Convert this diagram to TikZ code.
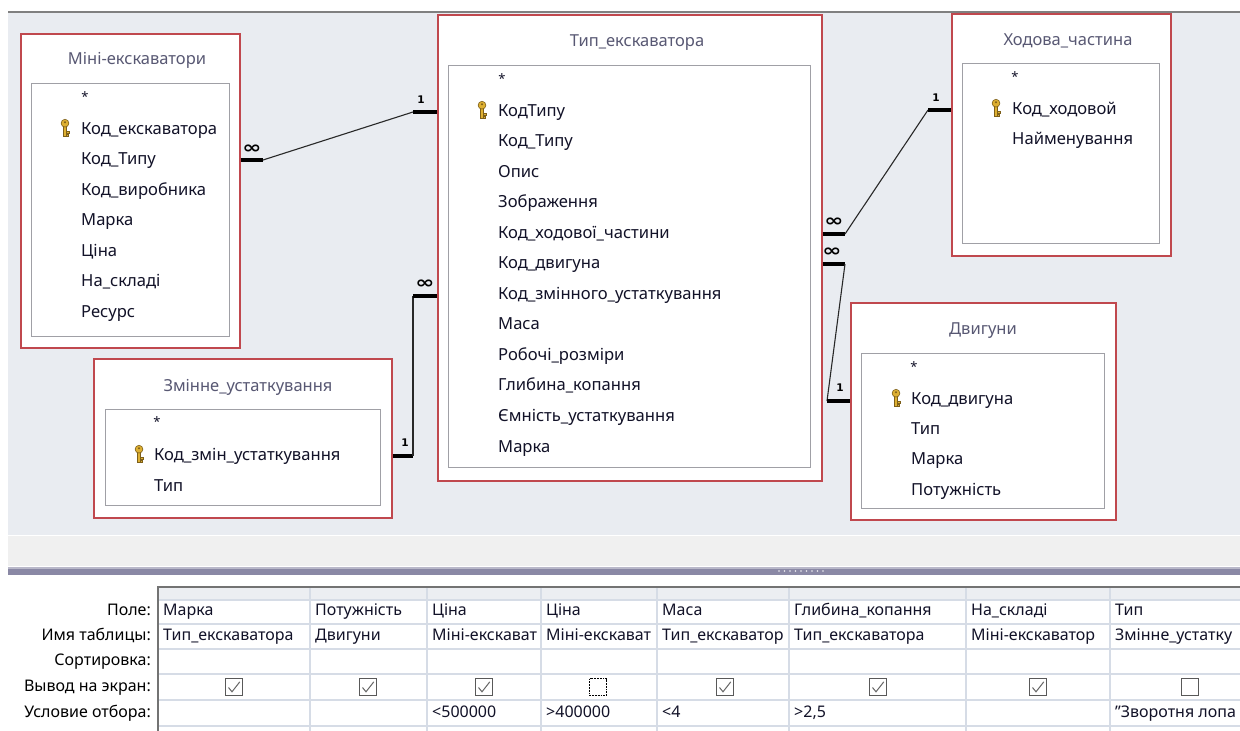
\documentclass[tikz,border=0pt]{standalone}
\usepackage{fontspec}
\setmainfont{Noto Sans}
\newfontfamily\relfont{DejaVu Sans}
\definecolor{bgdiag}{RGB}{233,236,241}
\definecolor{tblred}{RGB}{192,72,78}
\definecolor{inngray}{RGB}{160,160,166}
\definecolor{ttlcol}{RGB}{88,88,115}
\definecolor{fldcol}{RGB}{18,18,40}
\definecolor{relcol}{RGB}{40,40,40}
\definecolor{gridln}{RGB}{214,220,230}
\definecolor{gridhd}{RGB}{236,238,242}
\definecolor{barcol}{RGB}{138,136,165}
\definecolor{keygold}{RGB}{222,176,50}
\definecolor{keydark}{RGB}{125,95,25}
\newcommand\gcell[4]{\begin{scope}\clip (#1,#3-12) rectangle (#2-1,#3+12); \node[gtxt] at (#1+5,#3) {#4};\end{scope}}
\newcommand\cbox[2]{\draw[cbx] (#1-8.5,#2-8.5) rectangle (#1+8.5,#2+8.5); \draw[chk] (#1-5.5,#2+0.5) -- (#1-2,#2+4.8) -- (#1+5.8,#2-5.2);}
\begin{document}
\begin{tikzpicture}[x=1pt,y=-1pt,
  tbl/.style={draw=tblred,line width=1.9pt,fill=white,anchor=north west,inner sep=0pt},
  inbox/.style={draw=inngray,line width=1.4pt,fill=white,anchor=north west,inner sep=0pt},
  ttl/.style={text=ttlcol,font=\fontsize{16.5}{18}\selectfont,inner sep=0pt},
  fld/.style={text=fldcol,font=\fontsize{16.6}{18}\selectfont,anchor=west,inner sep=0pt,text height=11.5pt,text depth=3.5pt},
  starst/.style={text=fldcol,font=\fontsize{13}{14}\selectfont,inner sep=0pt},
  stub/.style={line width=3.8pt,draw=black},
  rel/.style={line width=1.1pt,draw=relcol},
  card/.style={font=\relfont\bfseries\fontsize{10.5}{11}\selectfont,inner sep=0pt},
  inf/.style={font=\relfont\bfseries\fontsize{17}{18}\selectfont,inner sep=0pt,xscale=1.35},
  gtxt/.style={text=fldcol,font=\fontsize{16}{17}\selectfont,anchor=west,inner sep=0pt,text height=11.5pt,text depth=3.5pt},
  glab/.style={text=black,font=\fontsize{16}{17}\selectfont,anchor=east,inner sep=0pt,text height=11.5pt,text depth=3.5pt},
  cbx/.style={draw=black!65,line width=1pt,fill=white},
  chk/.style={draw=black!60,line width=1pt},
  goldkey/.pic={
    \filldraw[fill=keygold,draw=keydark,line width=0.6pt] (-1.5,-2) rectangle (1.5,8.5);
    \filldraw[fill=keygold,draw=keydark,line width=0.6pt] (0,-4.8) circle (3.9);
    \fill[keydark] (0,-5.8) circle (1.1);
    \filldraw[fill=keygold,draw=keydark,line width=0.5pt] (1.5,3.6) rectangle (3.8,5.2);
    \filldraw[fill=keygold,draw=keydark,line width=0.5pt] (1.5,6.6) rectangle (3.4,8.2);
  }
]
\useasboundingbox (0,0) rectangle (1240,731);
\fill[white] (0,0) rectangle (1240,731);
% diagram area
\fill[bgdiag] (8,12) rectangle (1240,535);
\fill[black!6] (8,536) rectangle (1240,566);
\fill[barcol] (8,567) rectangle (1240,575);
\fill[barcol!60] (8,567) rectangle (1240,568.5);
\foreach \i in {0,...,8} \fill[white!85!barcol] (779+\i*5.5,571) circle (0.9);

% ---------- tables ----------
% Mini
\node[tbl,minimum width=219pt,minimum height=314pt] (mini) at (20,33) {};
\node[inbox,minimum width=198pt,minimum height=253pt] (miniin) at (31,83) {};
\node[ttl] (minit) at (137,60) {Міні-екскаватори};
\node[starst] (mini0) at (85,97) {*};
\pic at (65,128) {goldkey};
\foreach \t [count=\i] in {Код\_екскаватора,Код\_Типу,Код\_виробника,Марка,Ціна,На\_складі,Ресурс}
  \node[fld] (mini\i) at (81,{130+(\i-1)*30.5}) {\t};

% Tip
\node[tbl,minimum width=384pt,minimum height=466pt] (tip) at (437,14) {};
\node[inbox,minimum width=362pt,minimum height=402pt] (tipin) at (448,65) {};
\node[ttl] (tipt) at (637,43) {Тип\_екскаватора};
\node[starst] (tip0) at (502,79) {*};
\pic at (482,110) {goldkey};
\foreach \t [count=\i] in {КодТипу,Код\_Типу,Опис,Зображення,Код\_ходової\_частини,Код\_двигуна,Код\_змінного\_устаткування,Маса,Робочі\_розміри,Глибина\_копання,Ємність\_устаткування,Марка}
  \node[fld] (tip\i) at (498,{112+(\i-1)*30.55}) {\t};

% Khodova
\node[tbl,minimum width=219pt,minimum height=242pt] (khod) at (951,13) {};
\node[inbox,minimum width=197pt,minimum height=180pt] (khodin) at (962,63) {};
\node[ttl] (khodt) at (1068,41) {Ходова\_частина};
\node[starst] (khod0) at (1015,77) {*};
\pic at (996,108) {goldkey};
\node[fld] (khod1) at (1012,110) {Код\_ходовой};
\node[fld] (khod2) at (1012,140) {Найменування};

% Dvyhuny
\node[tbl,minimum width=265pt,minimum height=217pt] (dv) at (850,302) {};
\node[inbox,minimum width=243pt,minimum height=155pt] (dvin) at (861,353) {};
\node[ttl] (dvt) at (983,331) {Двигуни};
\node[starst] (dv0) at (914,367) {*};
\pic at (896,398) {goldkey};
\foreach \t [count=\i] in {Код\_двигуна,Тип,Марка,Потужність}
  \node[fld] (dv\i) at (911,{400+(\i-1)*30.4}) {\t};

% Zminne
\node[tbl,minimum width=298pt,minimum height=159pt] (zm) at (93,358) {};
\node[inbox,minimum width=275pt,minimum height=96pt] (zmin) at (105,409) {};
\node[ttl] (zmt) at (248,387) {Змінне\_устаткування};
\node[starst] (zm0) at (157,422) {*};
\pic at (139,454) {goldkey};
\node[fld] (zm1) at (154,456) {Код\_змін\_устаткування};
\node[fld] (zm2) at (154,487) {Тип};

% ---------- relations ----------
\coordinate (a1) at (mini.east |- 0,160);
\coordinate (a2) at (263,160);
\coordinate (a3) at (413,112);
\coordinate (a4) at (tip.west |- 0,112);
\draw[stub] (a1) -- (a2);
\draw[rel] (a2) -- (a3);
\draw[stub] (a3) -- (a4);
\node[inf] (a-inf) at (252,149) {∞};
\node[card] (a-one) at (421,100) {1};

\coordinate (b1) at (zm.east |- 0,456);
\coordinate (b2) at (413,456);
\coordinate (b3) at (413,296);
\coordinate (b4) at (tip.west |- 0,296);
\draw[stub] (b1) -- (b2);
\draw[rel,line width=1.6pt] (b2) -- (b3);
\draw[stub] (b3) -- (b4);
\node[inf] (b-inf) at (425,284) {∞};
\node[card] (b-one) at (405,443) {1};

\coordinate (c1) at (tip.east |- 0,234);
\coordinate (c2) at (845,234);
\coordinate (c3) at (928,110);
\coordinate (c4) at (khod.west |- 0,110);
\draw[stub] (c1) -- (c2);
\draw[rel] (c2) -- (c3);
\draw[stub] (c3) -- (c4);
\node[inf] (c-inf) at (834,222) {∞};
\node[card] (c-one) at (936,98) {1};

\coordinate (d1) at (tip.east |- 0,264);
\coordinate (d2) at (845,264);
\coordinate (d3) at (827,401);
\coordinate (d4) at (dv.west |- 0,401);
\draw[stub] (d1) -- (d2);
\draw[rel] (d2) -- (d3);
\draw[stub] (d3) -- (d4);
\node[inf] (d-inf) at (832,252) {∞};
\node[card] (d-one) at (840,388) {1};

% top line
\draw[line width=2pt,black!50] (8,12) -- (1240,12);

% ---------- query grid ----------
\fill[gridhd] (158,587) rectangle (1240,600);
\foreach \y in {600,624,649,674,700,726} \draw[gridln,line width=1.2pt] (158,\y) -- (1240,\y);
\foreach \x in {310,427,541,657,789,966,1110} \draw[gridln,line width=1.2pt] (\x,587) -- (\x,731);
\draw[black!55,line width=1.2pt] (158,731) -- (158,587) -- (1240,587);

\foreach \t/\y [count=\i] in {Поле:/611,Имя таблицы:/636,Сортировка:/661,Вывод на экран:/687,Условие отбора:/713}
  \node[glab] (lab\i) at (151,\y) {\t};

\gcell{158}{310}{611}{Марка}
\gcell{310}{427}{611}{Потужність}
\gcell{427}{541}{611}{Ціна}
\gcell{541}{657}{611}{Ціна}
\gcell{657}{789}{611}{Маса}
\gcell{789}{966}{611}{Глибина\_копання}
\gcell{966}{1110}{611}{На\_складі}
\gcell{1110}{1240}{611}{Тип}

\gcell{158}{310}{636}{Тип\_екскаватора}
\gcell{310}{427}{636}{Двигуни}
\gcell{427}{541}{636}{Міні-екскават}
\gcell{541}{657}{636}{Міні-екскават}
\gcell{657}{789}{636}{Тип\_екскаватор}
\gcell{789}{966}{636}{Тип\_екскаватора}
\gcell{966}{1110}{636}{Міні-екскаватор}
\gcell{1110}{1241}{636}{Змінне\_устатку}

\gcell{427}{541}{713}{<500000}
\gcell{541}{657}{713}{>400000}
\gcell{657}{789}{713}{<4}
\gcell{789}{966}{713}{>2,5}
\gcell{1110}{1241}{713}{\char34 Зворотня лопа}

\cbox{234}{687}
\cbox{368}{687}
\cbox{484}{687}
\draw[black,line width=1.8pt,densely dotted,fill=white] (598-8.5,687-8.5) rectangle (598+8.5,687+8.5);
\cbox{725}{687}
\cbox{878}{687}
\cbox{1038}{687}
\draw[cbx] (1190-8.5,687-8.5) rectangle (1190+8.5,687+8.5);
\end{tikzpicture}
\end{document}
